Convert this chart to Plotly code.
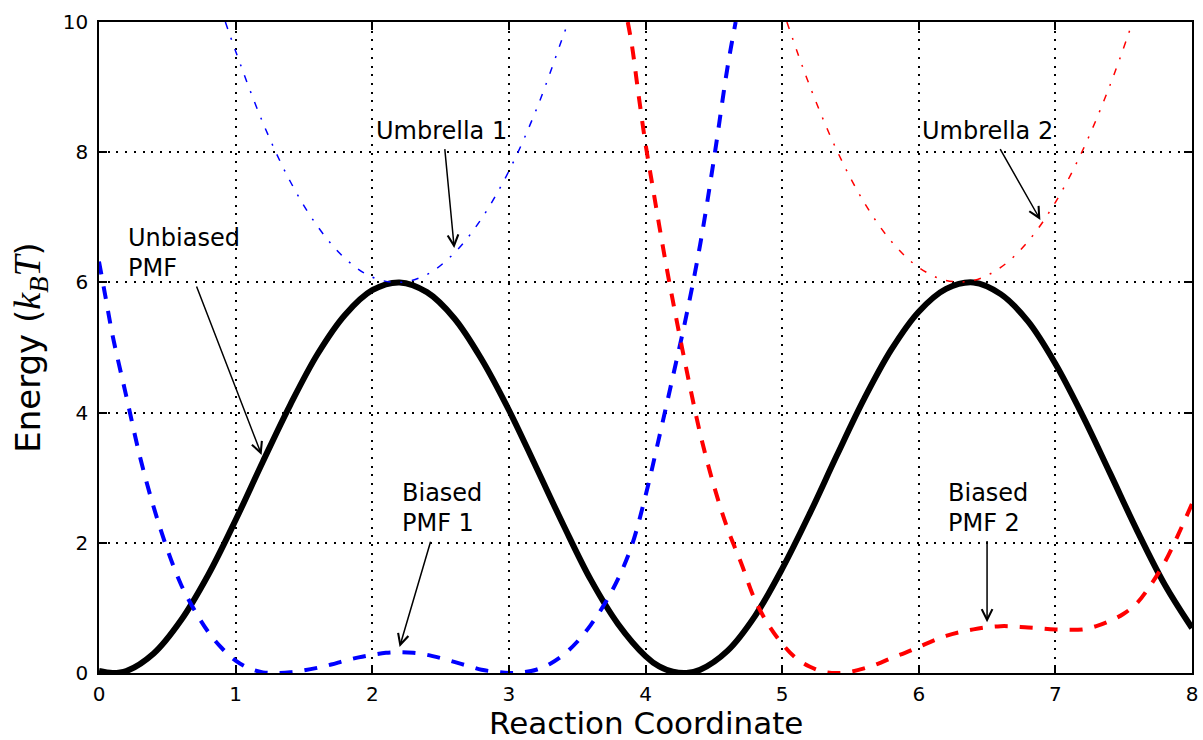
import plotly.graph_objects as go

# Unbiased potential of mean force (black solid)
pmf_x = [0.0, 0.1, 0.2, 0.4, 0.6, 0.8, 1.0, 1.2, 1.4, 1.6, 1.8, 2.0, 2.2, 2.4, 2.6, 2.8,
         3.0, 3.2, 3.4, 3.6, 3.8, 4.0, 4.1, 4.2, 4.3, 4.4, 4.6, 4.8, 5.0, 5.2, 5.4, 5.6,
         5.8, 6.0, 6.2, 6.4, 6.6, 6.8, 7.0, 7.2, 7.4, 7.6, 7.8, 8.0]
pmf_y = [0.03, 0.0, 0.03, 0.30, 0.81, 1.51, 2.35, 3.25, 4.12, 4.90, 5.50, 5.88, 6.00,
         5.85, 5.45, 4.82, 4.04, 3.16, 2.27, 1.43, 0.75, 0.26, 0.10, 0.02, 0.0, 0.05,
         0.34, 0.87, 1.60, 2.44, 3.34, 4.21, 4.97, 5.55, 5.90, 6.00, 5.82, 5.40, 4.75,
         3.95, 3.07, 2.18, 1.36, 0.69]

# Umbrella potentials (dash-dot)
umb1_x = [0.925, 1.0, 1.2, 1.4, 1.6, 1.8, 2.0, 2.2, 2.4, 2.6, 2.8, 3.0, 3.2, 3.4, 3.435]
umb1_y = [10.0, 9.55, 8.45, 7.55, 6.86, 6.37, 6.08, 6.00, 6.12, 6.45, 6.98, 7.71, 8.65, 9.80, 10.0]

umb2_x = [5.035, 5.2, 5.4, 5.6, 5.8, 6.0, 6.2, 6.4, 6.6, 6.8, 7.0, 7.2, 7.4, 7.565]
umb2_y = [10.0, 9.03, 8.03, 7.23, 6.63, 6.23, 6.03, 6.03, 6.23, 6.63, 7.23, 8.03, 9.03, 10.0]

# Biased PMFs (dashed)
bias1_x = [0.0, 0.05, 0.1, 0.2, 0.3, 0.4, 0.5, 0.6, 0.7, 0.8, 0.9, 1.0, 1.1, 1.2, 1.3,
           1.4, 1.5, 1.6, 1.7, 1.8, 1.9, 2.0, 2.1, 2.2, 2.3, 2.4, 2.5, 2.6, 2.7, 2.8,
           2.9, 3.0, 3.1, 3.2, 3.3, 3.4, 3.5, 3.6, 3.7, 3.8, 3.9, 4.0, 4.1, 4.2, 4.3,
           4.4, 4.5, 4.6, 4.66]
bias1_y = [6.32, 5.75, 5.18, 4.25, 3.32, 2.55, 1.90, 1.36, 0.96, 0.63, 0.38, 0.19, 0.07,
           0.01, 0.0, 0.01, 0.04, 0.08, 0.13, 0.19, 0.24, 0.28, 0.31, 0.32, 0.31, 0.28,
           0.23, 0.17, 0.11, 0.05, 0.02, 0.0, 0.01, 0.05, 0.14, 0.28, 0.48, 0.74, 1.06,
           1.45, 1.96, 2.72, 3.62, 4.55, 5.50, 6.58, 7.88, 9.30, 10.0]

bias2_x = [3.87, 3.9, 3.95, 4.0, 4.05, 4.1, 4.15, 4.2, 4.25, 4.3, 4.4, 4.5, 4.6, 4.7,
           4.8, 4.9, 5.0, 5.1, 5.2, 5.3, 5.4, 5.5, 5.6, 5.7, 5.8, 5.9, 6.0, 6.2, 6.4,
           6.6, 6.8, 7.0, 7.2, 7.3, 7.4, 7.5, 7.6, 7.7, 7.8, 7.9, 8.0]
bias2_y = [10.0, 9.65, 8.87, 8.13, 7.50, 6.88, 6.28, 5.72, 5.18, 4.66, 3.68, 2.88, 2.22,
           1.69, 1.13, 0.74, 0.45, 0.23, 0.10, 0.02, 0.0, 0.02, 0.07, 0.14, 0.23, 0.31,
           0.40, 0.57, 0.67, 0.72, 0.70, 0.67, 0.67, 0.72, 0.80, 0.91, 1.08, 1.36, 1.70,
           2.13, 2.60]

x_ticks = [0, 1, 2, 3, 4, 5, 6, 7, 8]
y_ticks = [0, 2, 4, 6, 8, 10]

FONT = "DejaVu Sans"
DASHDOT = "7px,9.7px,2px,9.7px"
DASHED = "13px,12px"

fig = go.Figure()
fig.add_trace(go.Scatter(x=pmf_x, y=pmf_y, mode="lines",
                         line=dict(color="black", width=6, shape="spline")))
fig.add_trace(go.Scatter(x=umb1_x, y=umb1_y, mode="lines",
                         line=dict(color="#0000ff", width=1.5, dash=DASHDOT, shape="spline")))
fig.add_trace(go.Scatter(x=umb2_x, y=umb2_y, mode="lines",
                         line=dict(color="#ff0000", width=1.5, dash=DASHDOT, shape="spline")))
fig.add_trace(go.Scatter(x=bias1_x, y=bias1_y, mode="lines",
                         line=dict(color="#0000ff", width=4, dash=DASHED, shape="spline")))
fig.add_trace(go.Scatter(x=bias2_x, y=bias2_y, mode="lines",
                         line=dict(color="#ff0000", width=4, dash=DASHED, shape="spline")))

# Label text, one annotation per line: (text, x, y-centre)
labels = [
    ("Unbiased", 0.20, 6.68), ("PMF", 0.20, 6.22),
    ("Umbrella 1", 2.01, 8.33),
    ("Umbrella 2", 6.01, 8.33),
    ("Biased", 2.20, 2.76), ("PMF 1", 2.20, 2.30),
    ("Biased", 6.20, 2.76), ("PMF 2", 6.20, 2.30),
]
# Arrows: (tail x, tail y, head x, head y)
arrows = [
    (0.71, 5.96, 1.19, 3.35),
    (2.53, 8.07, 2.60, 6.53),
    (6.59, 8.07, 6.89, 6.96),
    (2.43, 2.04, 2.20, 0.40),
    (6.50, 2.05, 6.50, 0.78),
]

annotations = []
for text, lx, ly in labels:
    annotations.append(dict(text=text, x=lx, y=ly, xref="x", yref="y",
                            xanchor="left", yanchor="middle", showarrow=False,
                            font=dict(family=FONT, size=24, color="black")))
for tx, ty, hx, hy in arrows:
    annotations.append(dict(text="", x=hx, y=hy, ax=tx, ay=ty,
                            xref="x", yref="y", axref="x", ayref="y",
                            showarrow=True, arrowhead=5, arrowsize=1.4,
                            arrowwidth=1.5, arrowcolor="black", standoff=0))

# x-axis title, placed below the tick labels
annotations.append(dict(text="Reaction Coordinate", x=0.5, y=-0.0768,
                        xref="paper", yref="paper", xanchor="center", yanchor="middle",
                        showarrow=False,
                        font=dict(family=FONT, size=31, color="black")))

axis_common = dict(
    showgrid=True, gridcolor="black", gridwidth=1.5, griddash="2px,6.7px",
    zeroline=False, showline=True, linecolor="black", linewidth=1.5,
    mirror="ticks", ticks="inside", ticklen=8, tickwidth=1.5, tickcolor="black",
    tickfont=dict(family=FONT, size=20, color="black"),
)

fig.update_xaxes(range=[0, 8], tickvals=x_ticks, ticktext=[str(v) for v in x_ticks],
                 ticklabelstandoff=2, **axis_common)
fig.update_yaxes(range=[0, 10], tickvals=y_ticks, ticktext=[str(v) for v in y_ticks],
                 title=dict(text='Energy (<span style="font-family:Liberation Serif;font-size:38px">'
                                 '<i>k</i><sub><i>B</i></sub><i>T</i></span>)',
                            font=dict(family=FONT, size=34, color="black"), standoff=12),
                 ticklabelstandoff=5, **axis_common)

fig.update_layout(
    width=1203, height=740,
    margin=dict(l=99, r=11, t=22, b=67, autoexpand=False),
    paper_bgcolor="white", plot_bgcolor="white",
    showlegend=False,
    annotations=annotations,
)

fig.write_html("out.html")
